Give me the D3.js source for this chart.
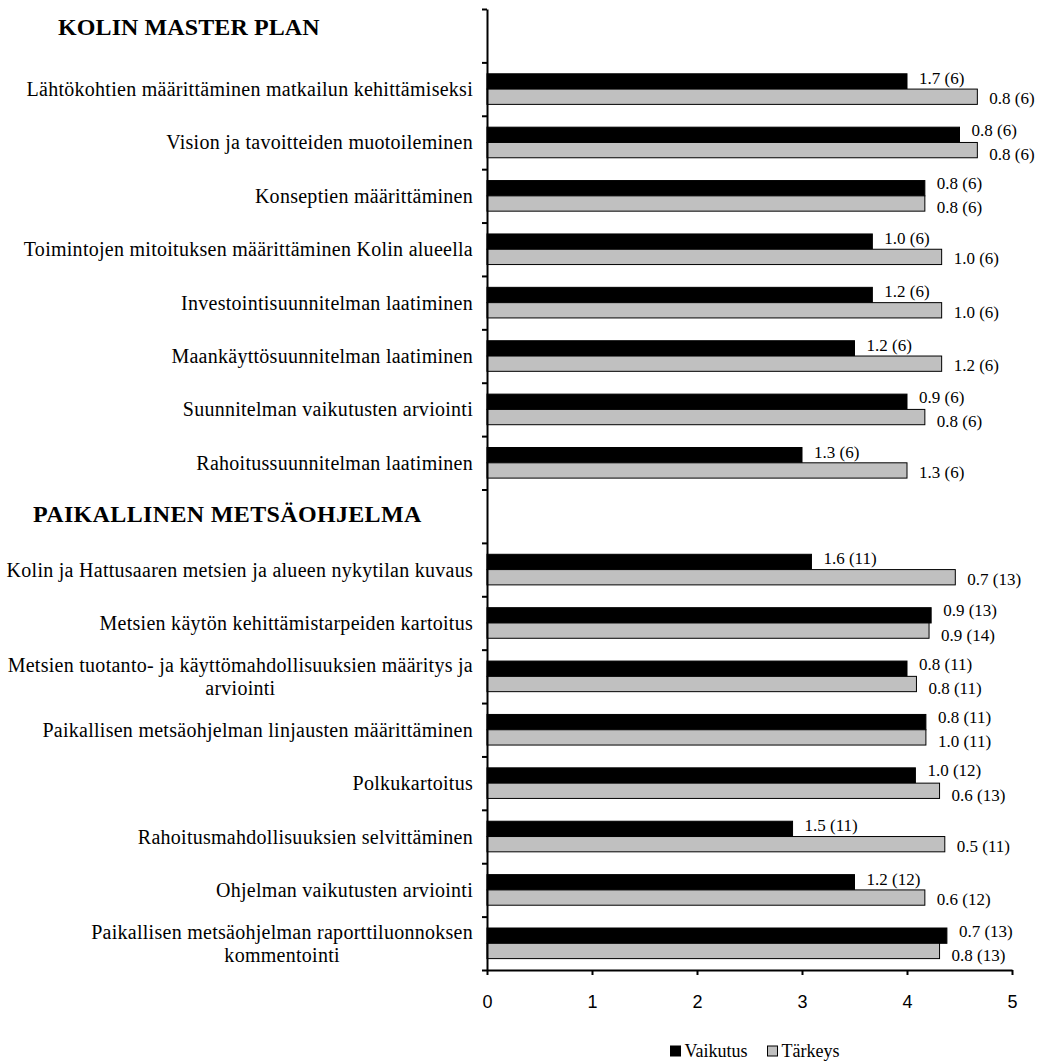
<!DOCTYPE html>
<html>
<head>
<meta charset="utf-8">
<script src="https://cdn.jsdelivr.net/npm/d3@7"></script>
<style>
  body { margin: 0; background: #fff; }
  svg { display: block; }
</style>
</head>
<body>
<svg id="chart"></svg>
<script>
'use strict';

// section headings (they take one empty row each on the category axis)
const sections = ["KOLIN MASTER PLAN", "PAIKALLINEN METSÄOHJELMA"];

const masterPlanTasks = [
    "Lähtökohtien määrittäminen matkailun kehittämiseksi",
    "Vision ja tavoitteiden muotoileminen",
    "Konseptien määrittäminen",
    "Toimintojen mitoituksen määrittäminen Kolin alueella",
    "Investointisuunnitelman laatiminen",
    "Maankäyttösuunnitelman laatiminen",
    "Suunnitelman vaikutusten arviointi",
    "Rahoitussuunnitelman laatiminen"
];

const forestTasks = [
    "Kolin ja Hattusaaren metsien ja alueen nykytilan kuvaus",
    "Metsien käytön kehittämistarpeiden kartoitus",
    "Metsien tuotanto- ja käyttömahdollisuuksien määritys ja\narviointi",
    "Paikallisen metsäohjelman linjausten määrittäminen",
    "Polkukartoitus",
    "Rahoitusmahdollisuuksien selvittäminen",
    "Ohjelman vaikutusten arviointi",
    "Paikallisen metsäohjelman raporttiluonnoksen\nkommentointi"
];

const seriesNames = ["Vaikutus", "Tärkeys"];
const seriesColors = ["#000000", "#c0c0c0"];

const vaikutus = [4.0, 4.5, 4.17, 3.67, 3.67, 3.5, 4.0, 3.0,
                  3.09, 4.23, 4.0, 4.18, 4.08, 2.91, 3.5, 4.38];
const tarkeys  = [4.67, 4.67, 4.17, 4.33, 4.33, 4.33, 4.17, 4.0,
                  4.46, 4.21, 4.09, 4.18, 4.31, 4.36, 4.17, 4.31];

// "sd (n)" labels shown next to the bars
const vaikutusLabels = ["1.7 (6)", "0.8 (6)", "0.8 (6)", "1.0 (6)", "1.2 (6)", "1.2 (6)", "0.9 (6)", "1.3 (6)",
                        "1.6 (11)", "0.9 (13)", "0.8 (11)", "0.8 (11)", "1.0 (12)", "1.5 (11)", "1.2 (12)", "0.7 (13)"];
const tarkeysLabels  = ["0.8 (6)", "0.8 (6)", "0.8 (6)", "1.0 (6)", "1.0 (6)", "1.2 (6)", "0.8 (6)", "1.3 (6)",
                        "0.7 (13)", "0.9 (14)", "0.8 (11)", "1.0 (11)", "0.6 (13)", "0.5 (11)", "0.6 (12)", "0.8 (13)"];

const xTicks = [0, 1, 2, 3, 4, 5];

function drawChart() {
    const width = 1041, height = 1064;
    const plot = { left: 487, right: 1012, top: 9, bottom: 970 };
    const serif = "'Liberation Serif', 'Times New Roman', serif";

    const svg = d3.select("#chart")
        .attr("width", width)
        .attr("height", height);

    svg.append("rect").attr("width", width).attr("height", height).attr("fill", "#fff");

    // all category rows, section headings included
    const tasks = masterPlanTasks.concat(forestTasks);
    const slots = [sections[0]].concat(masterPlanTasks, [sections[1]], forestTasks);

    const rows = tasks.map((name, i) => ({
        name: name,
        values: [
            { key: 0, value: vaikutus[i], label: vaikutusLabels[i] },
            { key: 1, value: tarkeys[i], label: tarkeysLabels[i] }
        ]
    }));

    const x = d3.scaleLinear()
        .domain([0, 5])
        .range([plot.left, plot.right]);

    const y = d3.scaleBand()
        .domain(slots)
        .range([plot.top, plot.bottom])
        .paddingInner(0.427)
        .paddingOuter(0.2135);

    const ySub = d3.scaleBand()
        .domain([0, 1])
        .range([0, y.bandwidth()]);

    // bars
    const groups = svg.append("g")
        .selectAll("g")
        .data(rows)
        .enter()
        .append("g")
        .attr("transform", d => "translate(0," + y(d.name) + ")");

    groups.selectAll("rect")
        .data(d => d.values)
        .enter()
        .append("rect")
        .attr("x", x(0))
        .attr("y", d => ySub(d.key))
        .attr("width", d => x(d.value) - x(0))
        .attr("height", ySub.bandwidth())
        .style("fill", d => seriesColors[d.key])
        .style("stroke", "#000")
        .style("stroke-width", "1px");

    const labelGap = 12;
    const labelY = (d, shift) => ySub(d.key) + ySub.bandwidth() / 2 + (d.key === 0 ? -shift[0] : shift[1]);
    groups.each(function (row) {
        const g = d3.select(this);
        const labels = g.selectAll("text")
            .data(row.values)
            .enter()
            .append("text")
            .attr("x", d => x(d.value) + labelGap)
            .attr("y", d => labelY(d, [3, 2]))
            .attr("dy", "0.32em")
            .style("font-family", serif)
            .style("font-size", "17px")
            .style("fill", "#000")
            .text(d => d.label);

        // when the two labels would run into each other, spread them apart
        const ext = labels.nodes().map((n, k) => {
            const x0 = x(row.values[k].value) + labelGap;
            return [x0, x0 + n.getComputedTextLength()];
        });
        if (ext[0][0] < ext[1][1] && ext[1][0] < ext[0][1]) {
            labels.attr("y", d => labelY(d, [4.5, 4.5]));
        }
    });

    // category axis: ticks sit between the rows
    const yEdges = d3.scaleLinear()
        .domain([0, slots.length])
        .range([plot.top, plot.bottom]);

    const yAxis = d3.axisLeft(yEdges)
        .tickValues(d3.range(slots.length + 1))
        .tickFormat("")
        .tickSize(5)
        .tickSizeOuter(0);

    svg.append("g")
        .attr("transform", "translate(" + plot.left + ",0)")
        .call(yAxis)
        .call(g => g.selectAll("line, path").style("stroke", "#000").style("stroke-width", "2px"));

    // category labels, right aligned, wrapped lines centred on each other
    const labelRight = 473;
    const lineHeight = 23.3;
    svg.append("g")
        .selectAll("text")
        .data(tasks)
        .enter()
        .append("text")
        .style("font-family", serif)
        .style("font-size", "20px")
        .style("letter-spacing", "0.27px")
        .style("fill", "#000")
        .each(function (d) {
            const lines = d.split("\n");
            const t = d3.select(this);
            const cy = y(d) + y.bandwidth() / 2;
            const spans = lines.map((line, k) => t.append("tspan")
                .attr("y", cy + (k - (lines.length - 1) / 2) * lineHeight)
                .attr("dy", "0.35em")
                .text(line));
            const w = d3.max(spans, s => s.node().getComputedTextLength());
            spans.forEach(s => s.attr("x", labelRight - w / 2).attr("text-anchor", "middle"));
        });

    // section headings
    const headingPos = [[58, 35], [33, 522]];
    svg.append("g")
        .selectAll("text")
        .data(sections)
        .enter()
        .append("text")
        .attr("x", (d, i) => headingPos[i][0])
        .attr("y", (d, i) => headingPos[i][1])
        .style("font-family", serif)
        .style("font-weight", "bold")
        .style("font-size", "24px")
        .style("letter-spacing", (d, i) => i === 1 ? "0.35px" : "0.1px")
        .style("fill", "#000")
        .text(d => d);

    // value axis
    const xAxis = d3.axisBottom(x)
        .tickValues(xTicks)
        .tickFormat(d3.format("d"))
        .tickSize(5)
        .tickSizeOuter(0)
        .tickPadding(20);

    svg.append("g")
        .attr("transform", "translate(0," + plot.bottom + ")")
        .call(xAxis)
        .call(g => g.selectAll("line, path").style("stroke", "#000").style("stroke-width", "2px"))
        .call(g => g.selectAll("text")
            .style("font-family", "'Liberation Sans', Arial, sans-serif")
            .style("font-size", "18px")
            .style("fill", "#000"));

    // legend, centred under the plot area
    const legend = svg.append("g");
    const items = legend.selectAll("g")
        .data(seriesNames)
        .enter()
        .append("g");

    items.append("rect")
        .attr("width", 10)
        .attr("height", 10)
        .attr("y", 1046)
        .style("fill", (d, i) => seriesColors[i])
        .style("stroke", "#000")
        .style("stroke-width", "1px");

    items.append("text")
        .attr("x", 14)
        .attr("y", 1057)
        .style("font-family", serif)
        .style("font-size", "18px")
        .style("fill", "#000")
        .text(d => d);

    let offset = 0;
    const offsets = [];
    items.each(function () {
        offsets.push(offset);
        offset += this.getBBox().width + 20;
    });
    const total = offset - 20;
    const start = 755 - total / 2;
    items.attr("transform", (d, i) => "translate(" + (start + offsets[i]) + ",0)");
}

drawChart();
</script>
</body>
</html>
